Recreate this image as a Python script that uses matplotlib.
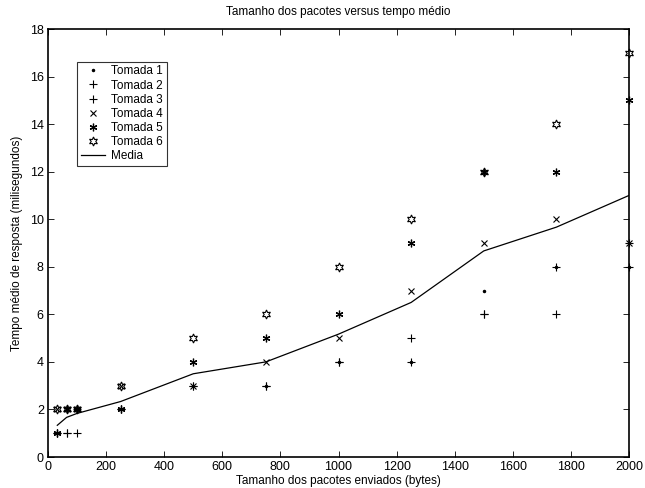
import numpy as np
import matplotlib
matplotlib.use("Agg")
import matplotlib.pyplot as plt

plt.rcParams['font.family'] = ['Liberation Sans', 'DejaVu Sans']
plt.rcParams['font.size'] = 8

# tamanho dos pacotes (bytes)
tamanho = [32, 64, 100, 250, 500, 750, 1000, 1250, 1500, 1750, 2000]

# tempo medio de resposta (ms) por tomada
tomada1 = [1, 2, 2, 2, 3, 3, 4, 4, 7, 8, 8]
tomada2 = [1, 1, 2, 2, 3, 3, 4, 5, 6, 8, 8]
tomada3 = [1, 1, 1, 2, 3, 3, 4, 4, 6, 6, 9]
tomada4 = [2, 2, 2, 3, 3, 4, 5, 7, 9, 10, 9]
tomada5 = [1, 2, 2, 2, 4, 5, 6, 9, 12, 12, 15]
tomada6 = [2, 2, 2, 3, 5, 6, 8, 10, 12, 14, 17]

labels = ["Tomada 1", "Tomada 2", "Tomada 3", "Tomada 4", "Tomada 5", "Tomada 6"]

fig = plt.figure(figsize=(6.45, 4.88), dpi=100)
ax = fig.add_axes([48 / 645, 1 - 457 / 488, 581 / 645, 428 / 488])

dados = [tomada1, tomada2, tomada3, tomada4, tomada5, tomada6]
estilos = [
    dict(marker=".", markersize=3),
    dict(marker="+", markersize=6, markeredgewidth=0.8),
    dict(marker="+", markersize=6, markeredgewidth=0.8),
    dict(marker="x", markersize=4.5, markeredgewidth=0.8),
    dict(marker=(6, 2, 0), markersize=5.5, markeredgewidth=0.9),
    dict(marker=(6, 1, 0), markersize=6.5, markerfacecolor="none",
         markeredgewidth=0.8),
]
for t, lab, st in zip(dados, labels, estilos):
    ax.plot(tamanho, t, linestyle="none", color="black", label=lab,
            clip_on=False, **st)

media = np.mean(np.array(dados), axis=0)
ax.plot(tamanho, media, color="black", linewidth=0.9, label="Media")

ax.set_xlim(0, 2000)
ax.set_ylim(0, 18)
ax.set_xticks(np.arange(0, 2001, 200))
ax.set_yticks(np.arange(0, 19, 2))
ax.tick_params(direction="in", top=True, right=True, length=4, width=0.6,
               labelsize=9, pad=3)
for s in ax.spines.values():
    s.set_linewidth(1.2)

ax.set_title("Tamanho dos pacotes versus tempo médio", fontsize=8.5, pad=10)
ax.set_xlabel("Tamanho dos pacotes enviados (bytes)", fontsize=8.5, labelpad=1)
ax.set_ylabel("Tempo médio de resposta (milisegundos)", fontsize=8.5, labelpad=5)

leg = ax.legend(loc="upper left", bbox_to_anchor=(0.05, 0.923), fontsize=8.5,
                frameon=True, fancybox=False, edgecolor="black",
                handlelength=2.1, borderpad=0.3, labelspacing=0.18,
                handletextpad=0.5, borderaxespad=0)
leg.get_frame().set_linewidth(0.8)

fig.savefig("out.png", dpi=100)
